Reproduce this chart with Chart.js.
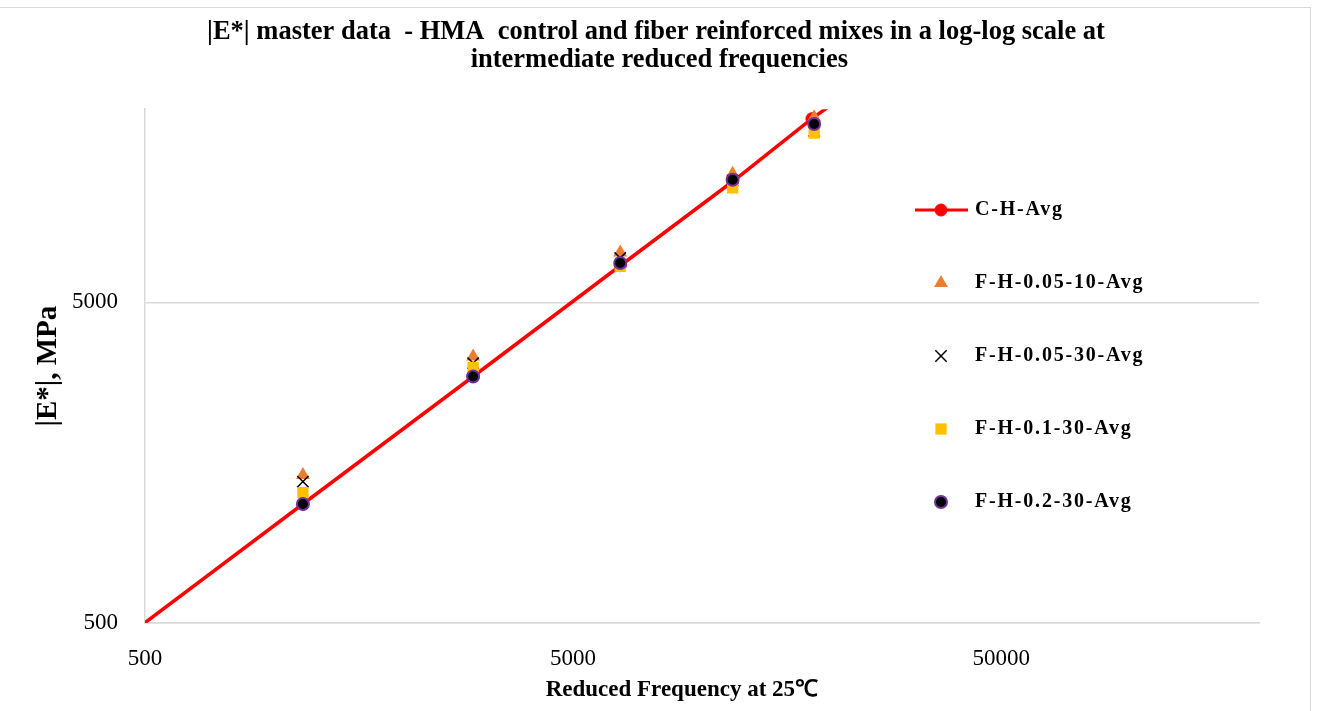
<!DOCTYPE html>
<html>
<head>
<meta charset="utf-8">
<script src="https://cdn.jsdelivr.net/npm/chart.js@4.4.1/dist/chart.umd.min.js"></script>
<style>
  html, body { margin: 0; padding: 0; background: #fff; }
  #wrap { position: absolute; left: 0; top: 0; width: 1319px; height: 711px; }
  #frame { position: absolute; left: -1px; top: 7px; width: 1312px; height: 710px; border: 1px solid #d9d9d9; box-sizing: border-box; pointer-events: none; }
</style>
</head>
<body>
<div id="wrap">
  <canvas id="chart" width="1319" height="711"></canvas>
  <div id="frame"></div>
</div>
<script>
// Daten
const reducedFreq = [1169, 2920, 6441, 11790, 18280];
const cHFreq = [250, 1169, 2920, 6441, 11790, 18060, 40000];
const cHAvg = [250, 1175, 2935, 6500, 11900, 18680, 40000];
const fH0510 = [1448, 3388, 7154, 12590, 18860];
const fH0530 = [1380, 3230, 6870, 11995, 17130];
const fH0130 = [1275, 3130, 6470, 11360, 16860];
const fH0230 = [1175, 2935, 6627, 12050, 17985];
const seriesNames = ['C-H-Avg', 'F-H-0.05-10-Avg', 'F-H-0.05-30-Avg', 'F-H-0.1-30-Avg', 'F-H-0.2-30-Avg'];
const xTicks = [500, 5000, 50000];
const yTicks = [500, 5000];

const serif = "'Liberation Serif', 'Times New Roman', serif";
const nb = n => '\u00a0'.repeat(n);

function pts(xs, ys) {
    return xs.map((x, i) => ({ x: x, y: ys[i] }));
}

const ds = [
    {
        label: seriesNames[0], data: pts(cHFreq, cHAvg), showLine: true,
        borderColor: '#ff0000', borderWidth: 3.5,
        pointStyle: 'circle', pointRadius: 6, pointBorderWidth: 1,
        pointBackgroundColor: '#ff0000', pointBorderColor: '#ff0000', order: 5
    },
    {
        label: seriesNames[1], data: pts(reducedFreq, fH0510), showLine: false,
        pointStyle: 'triangle', pointRadius: 8, pointBorderWidth: 0,
        pointBackgroundColor: '#ed7d31', pointBorderColor: '#ed7d31', order: 4
    },
    {
        label: seriesNames[2], data: pts(reducedFreq, fH0530), showLine: false,
        pointStyle: 'crossRot', pointRadius: 8, pointBorderWidth: 1.5,
        pointBackgroundColor: '#000', pointBorderColor: '#000', order: 3
    },
    {
        label: seriesNames[3], data: pts(reducedFreq, fH0130), showLine: false,
        pointStyle: 'rect', pointRadius: 8, pointBorderWidth: 0,
        pointBackgroundColor: '#ffc000', pointBorderColor: '#ffc000', order: 2
    },
    {
        label: seriesNames[4], data: pts(reducedFreq, fH0230), showLine: false,
        pointStyle: 'circle', pointRadius: 6, pointBorderWidth: 2,
        pointBackgroundColor: '#000', pointBorderColor: '#7030a0', order: 1
    }
];

// Legende rechts im Plotbereich, selbst gezeichnet
const sideLegend = {
    id: 'sideLegend',
    afterDraw(chart) {
        const ctx = chart.ctx;
        const rows = [210, 283, 356, 429, 502];
        const sx = 941, tx = 975;
        ctx.save();
        chart.data.datasets.forEach((d, i) => {
            const y = rows[i];
            if (d.showLine) {
                ctx.strokeStyle = d.borderColor;
                ctx.lineWidth = 3;
                ctx.beginPath();
                ctx.moveTo(915, y);
                ctx.lineTo(968, y);
                ctx.stroke();
            }
            ctx.fillStyle = d.pointBackgroundColor;
            ctx.strokeStyle = d.pointBorderColor;
            ctx.lineWidth = d.pointBorderWidth;
            Chart.helpers.drawPoint(ctx, {
                pointStyle: d.pointStyle,
                radius: d.pointRadius,
                borderWidth: d.pointBorderWidth,
                rotation: 0
            }, sx, y);
            ctx.fillStyle = '#000';
            ctx.font = 'bold 20px ' + serif;
            ctx.letterSpacing = '1.8px';
            ctx.textBaseline = 'middle';
            ctx.textAlign = 'left';
            ctx.fillText(seriesNames[i], tx, y);
            ctx.letterSpacing = '0px';
        });
        ctx.restore();
    }
};

new Chart(document.getElementById('chart'), {
    type: 'scatter',
    data: { datasets: ds },
    options: {
        responsive: false,
        animation: false,
        layout: { padding: { left: 0, right: 60, top: 0, bottom: 0 } },
        plugins: {
            legend: { display: false },
            tooltip: { enabled: false },
            title: {
                display: true,
                text: [nb(8) + '|E*| master data  - HMA  control and fiber reinforced mixes in a log-log scale at',
                       nb(9) + 'intermediate reduced frequencies'],
                color: '#000',
                font: { family: serif, size: 26.5, weight: 'bold', lineHeight: 1.06 },
                padding: { top: 18, bottom: 35 }
            }
        },
        scales: {
            x: {
                type: 'logarithmic',
                min: 500, max: 200000,
                afterBuildTicks: s => { s.ticks = xTicks.map(v => ({ value: v })); },
                afterFit: s => { s.height = 88; },
                grid: { display: false },
                border: { display: true, color: '#d9d9d9', width: 1.5 },
                ticks: {
                    color: '#000', padding: 14,
                    font: { family: serif, size: 23 },
                    maxRotation: 0,
                    callback: v => String(v)
                },
                title: {
                    display: true, text: 'Reduced Frequency at 25℃' + nb(7), color: '#000',
                    font: { family: serif, size: 23, weight: 'bold' },
                    padding: { top: 0, bottom: 7 }
                }
            },
            y: {
                type: 'logarithmic',
                min: 500, max: 20000,
                afterBuildTicks: s => { s.ticks = yTicks.map(v => ({ value: v })); },
                afterFit: s => { s.width = 145; },
                grid: { color: '#d9d9d9', lineWidth: 1.5, drawTicks: false },
                border: { display: true, color: '#d9d9d9', width: 1.5 },
                ticks: {
                    color: '#000', padding: 27,
                    font: { family: serif, size: 23 },
                    callback: v => String(v)
                },
                title: {
                    display: true, text: '|E*|, MPa', color: '#000',
                    font: { family: serif, size: 29, weight: 'bold' },
                    padding: { top: 31, bottom: 0 }
                }
            }
        }
    },
    plugins: [sideLegend]
});
</script>
</body>
</html>
